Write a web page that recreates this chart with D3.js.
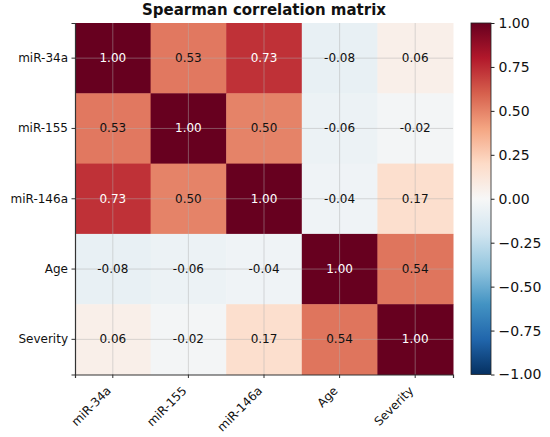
<!DOCTYPE html>
<html>
<head>
<meta charset="utf-8">
<script src="https://cdn.jsdelivr.net/npm/d3@7"></script>
<style>
  html, body { margin: 0; padding: 0; background: #fff; }
  svg { display: block; font-family: "DejaVu Sans", sans-serif; }
</style>
</head>
<body>
<div id="chart"></div>
<script>
// ── Spearman correlation heatmap ────────────────────────────────
const variables = ["miR-34a", "miR-155", "miR-146a", "Age", "Severity"];

const rowMiR34a  = [ 1.00,  0.53,  0.73, -0.08,  0.06];
const rowMiR155  = [ 0.53,  1.00,  0.50, -0.06, -0.02];
const rowMiR146a = [ 0.73,  0.50,  1.00, -0.04,  0.17];
const rowAge     = [-0.08, -0.06, -0.04,  1.00,  0.54];
const rowSev     = [ 0.06, -0.02,  0.17,  0.54,  1.00];
const matrix = [rowMiR34a, rowMiR155, rowMiR146a, rowAge, rowSev];

const colorbarTicks = [1, 0.75, 0.5, 0.25, 0, -0.25, -0.5, -0.75, -1];

// ColorBrewer RdBu (reversed -> RdBu_r), linear between the 11 anchors
const rdbu = ["#053061","#2166ac","#4393c3","#92c5de","#d1e5f0","#f7f7f7",
              "#fddbc7","#f4a582","#d6604d","#b2182b","#67001f"];

function drawHeatmap() {
    const width = 550, height = 437;
    const left = 75, right = 453, top = 23, bottom = 374.5;

    const svg = d3.select("#chart").append("svg")
        .attr("width", width).attr("height", height);

    const x = d3.scaleBand().domain(variables).range([left, right]).padding(0);
    const y = d3.scaleBand().domain(variables).range([top, bottom]).padding(0);

    const color = d3.scaleLinear()
        .domain(d3.range(rdbu.length).map(i => -1 + 2 * i / (rdbu.length - 1)))
        .range(rdbu)
        .interpolate(d3.interpolateRgb)
        .clamp(true);

    const cells = [];
    matrix.forEach((row, i) => row.forEach((v, j) => {
        cells.push({ row: variables[i], col: variables[j], value: v });
    }));

    // cells
    svg.append("g").selectAll("rect")
        .data(cells).join("rect")
        .attr("x", d => x(d.col))
        .attr("y", d => y(d.row))
        .attr("width", x.bandwidth() + 0.5)
        .attr("height", y.bandwidth() + 0.5)
        .attr("fill", d => color(d.value));

    // grid lines at tick positions
    const grid = svg.append("g")
        .attr("stroke", "#b0b0b0").attr("stroke-opacity", 0.5)
        .attr("stroke-width", 0.9);
    variables.forEach(v => {
        const cx = x(v) + x.bandwidth() / 2;
        const cy = y(v) + y.bandwidth() / 2;
        grid.append("line").attr("x1", cx).attr("x2", cx)
            .attr("y1", top).attr("y2", bottom);
        grid.append("line").attr("x1", left).attr("x2", right)
            .attr("y1", cy).attr("y2", cy);
    });

    // annotations
    svg.append("g").selectAll("text")
        .data(cells).join("text")
        .attr("x", d => x(d.col) + x.bandwidth() / 2)
        .attr("y", d => y(d.row) + y.bandwidth() / 2)
        .attr("text-anchor", "middle")
        .attr("dominant-baseline", "central")
        .style("font-size", "12px")
        .style("fill", d => Math.abs(d.value) > 0.6 ? "#ffffff" : "#111")
        .text(d => d.value.toFixed(2));

    // y axis
    const yAxis = svg.append("g")
        .attr("transform", `translate(${left},0)`)
        .call(d3.axisLeft(y).tickSize(3.5).tickPadding(3.5));
    yAxis.select(".domain").attr("stroke", "#333").attr("stroke-width", 1.2);
    yAxis.selectAll(".tick line").attr("stroke", "#333");
    yAxis.selectAll(".tick text")
        .style("font-size", "12px").style("fill", "#111")
        .style("font-family", "DejaVu Sans");

    // x axis
    const xAxis = svg.append("g")
        .attr("transform", `translate(0,${bottom})`)
        .call(d3.axisBottom(x).tickSize(3.5).tickPadding(3.5));
    xAxis.select(".domain").attr("stroke", "#333").attr("stroke-width", 1.2);
    xAxis.selectAll(".tick line").attr("stroke", "#333");
    xAxis.selectAll(".tick text")
        .style("font-size", "12px").style("fill", "#111")
        .style("font-family", "DejaVu Sans")
        .attr("text-anchor", "end")
        .attr("dy", null)
        .attr("y", null)
        .attr("transform", "translate(-1,17) rotate(-45)");

    // title
    svg.append("text")
        .attr("x", (left + right) / 2).attr("y", 15)
        .attr("text-anchor", "middle")
        .style("font-size", "15px").style("font-weight", "bold")
        .style("fill", "#111")
        .text("Spearman correlation matrix");

    // colorbar
    const cbX = 471, cbW = 20;
    const cbScale = d3.scaleLinear().domain([-1, 1]).range([bottom, top]);

    const grad = svg.append("defs").append("linearGradient")
        .attr("id", "cbgrad").attr("x1", 0).attr("x2", 0).attr("y1", 1).attr("y2", 0);
    color.domain().forEach(v => {
        grad.append("stop")
            .attr("offset", (v + 1) / 2)
            .attr("stop-color", color(v));
    });

    svg.append("rect")
        .attr("x", cbX).attr("y", top)
        .attr("width", cbW).attr("height", bottom - top)
        .attr("fill", "url(#cbgrad)")
        .attr("stroke", "#222").attr("stroke-width", 0.8);

    const cbAxis = svg.append("g")
        .attr("transform", `translate(${cbX + cbW},0)`)
        .call(d3.axisRight(cbScale).tickValues(colorbarTicks)
            .tickFormat(d3.format(".2f")).tickSize(3.5).tickPadding(4));
    cbAxis.select(".domain").remove();
    cbAxis.selectAll(".tick line").attr("stroke", "#222");
    cbAxis.selectAll(".tick text")
        .style("font-size", "14px").style("fill", "#111")
        .style("font-family", "DejaVu Sans");
}

drawHeatmap();
</script>
</body>
</html>
